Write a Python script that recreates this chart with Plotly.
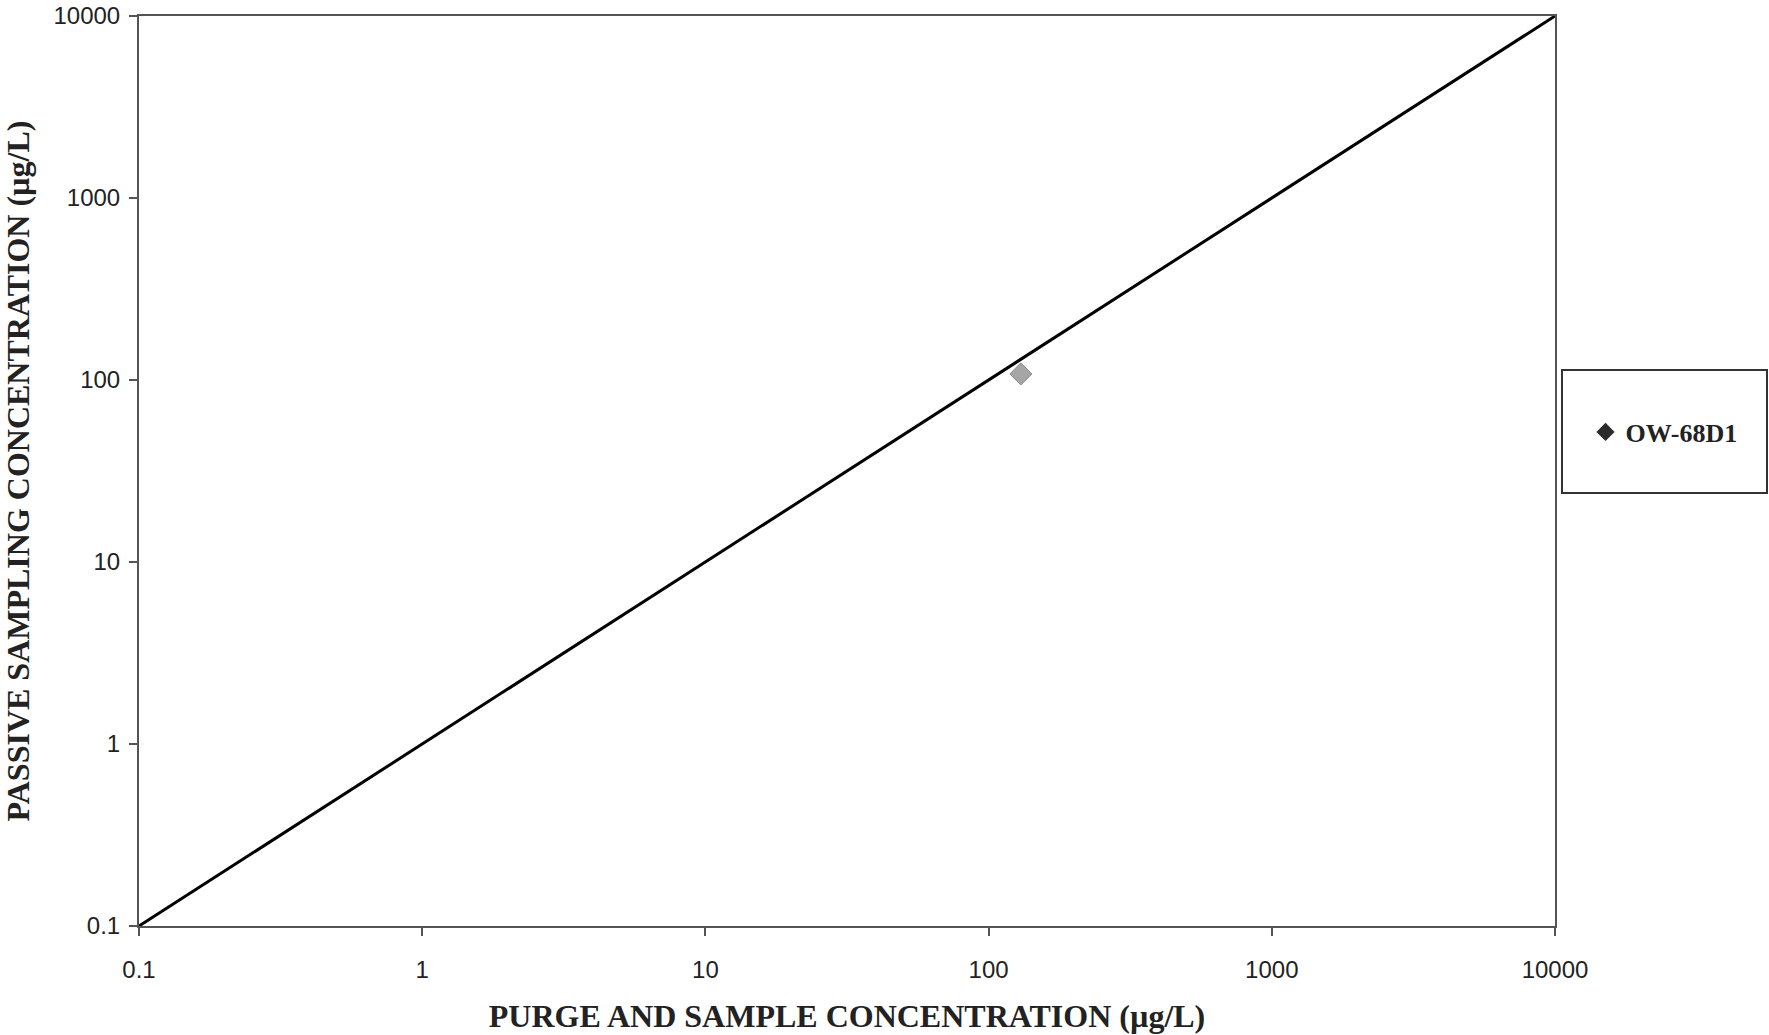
import plotly.graph_objects as go

# Data
series_name = "OW-68D1"
purge_conc = [130]
passive_conc = [108]
line_x = [0.1, 10000]
line_y = [0.1, 10000]
tick_vals = [0.1, 1, 10, 100, 1000, 10000]
tick_text = ["0.1", "1", "10", "100", "1000", "10000"]

W, H = 1769, 1035
L, R, T, B = 139, 214, 16, 109

fig = go.Figure()
fig.add_trace(go.Scatter(x=line_x, y=line_y, mode="lines",
                         line=dict(color="black", width=3), showlegend=False, hoverinfo="skip"))
fig.add_trace(go.Scatter(x=purge_conc, y=passive_conc, mode="markers", name=series_name,
                         marker=dict(symbol="diamond", size=17, color="#a6a6a6",
                                     line=dict(color="#8a8a8a", width=1)),
                         showlegend=False))
# legend entry (dark marker as in reference legend)
fig.add_trace(go.Scatter(x=[None], y=[None], mode="markers", name="<b>" + series_name + "</b>",
                         marker=dict(symbol="diamond", size=14, color="#2b2b2b")))

axis_common = dict(type="log", tickvals=tick_vals, ticktext=tick_text,
                   showgrid=False, zeroline=False, showline=True, mirror=True,
                   linecolor="#555555", linewidth=2, ticks="outside", ticklen=8,
                   tickcolor="#555555", tickwidth=1.5, automargin=False,
                   ticklabeloverflow="allow",
                   tickfont=dict(family="Liberation Sans, Arial", size=24, color="#222222"),
                   range=[-1, 4])
title_font = dict(family="Liberation Serif, Times New Roman", size=32, color="#222222")

fig.update_xaxes(**axis_common, ticklabelstandoff=13,
                 title=dict(text="<b>PURGE AND SAMPLE CONCENTRATION (µg/L)</b>",
                            font=title_font, standoff=23))
fig.update_yaxes(**axis_common, ticklabelstandoff=4,
                 title=dict(text="<b>PASSIVE SAMPLING CONCENTRATION (µg/L)</b>",
                            font=title_font, standoff=19))

# legend box (figure pixel positions converted to paper fractions)
PW, PH = W - L - R, H - T - B
fig.add_shape(type="rect", xref="paper", yref="paper",
              x0=(1562 - L) / PW, x1=(1767 - L) / PW,
              y0=(H - B - 493) / PH, y1=(H - B - 370) / PH,
              line=dict(color="#333333", width=2), fillcolor="white", layer="below")

fig.update_layout(
    width=W, height=H,
    margin=dict(l=L, r=R, t=T, b=B, autoexpand=False),
    paper_bgcolor="white", plot_bgcolor="white",
    showlegend=True,
    legend=dict(x=(1664 - L) / PW, y=(H - B - 432) / PH,
                xanchor="center", yanchor="middle",
                bgcolor="rgba(0,0,0,0)", borderwidth=0,
                font=dict(family="Liberation Serif, Times New Roman", size=26, color="#222222"),
                itemwidth=30),
)

fig.write_html("out.html", config={"displayModeBar": False},
               post_script="document.body.style.margin='0';")
